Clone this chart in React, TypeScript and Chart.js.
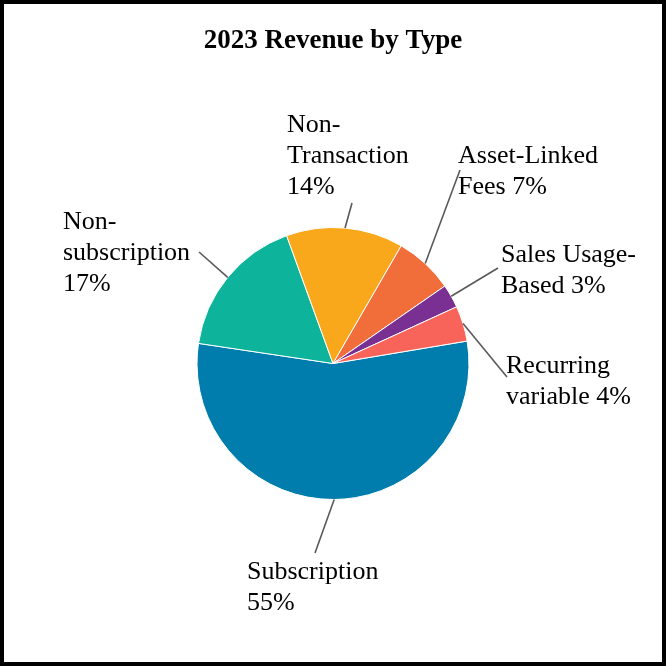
import React, { useEffect, useRef } from "react";
import { Chart, registerables } from "chart.js";

Chart.register(...registerables);

// ---- data ----
const chartTitle = "2023 Revenue by Type";
const categories = [
  "Subscription",
  "Non-subscription",
  "Non-Transaction",
  "Asset-Linked Fees",
  "Sales Usage-Based",
  "Recurring variable",
];
const shares = [55.0, 17.1, 13.9, 7.0, 2.8, 4.2];
// how each category name wraps in its label
const labelWraps = [
  ["Subscription"],
  ["Non-", "subscription"],
  ["Non-", "Transaction"],
  ["Asset-Linked", "Fees"],
  ["Sales Usage-", "Based"],
  ["Recurring", "variable"],
];
const percentOnOwnLine = [true, true, true, false, false, false];

// ---- styles / layout ----
const sliceColors = ["#007DAC", "#0DB39A", "#F9A81C", "#F16E3A", "#7A3092", "#F8645A"];
const FONT = '"Liberation Serif", "Times New Roman", serif';
const LINE_H = 31;
// label layout relative to pie centre: text left/first baseline, and where the leader ends
const labelLayout = [
  { tx: -86, ty: 215.5, lx: -18, ly: 189.5 },
  { tx: -270, ty: -134.5, lx: -134, ly: -111.5 },
  { tx: -46, ty: -231.5, lx: 19, ly: -160.5 },
  { tx: 125, ty: -200.5, lx: 127, ly: -193.5 },
  { tx: 168, ty: -101.5, lx: 165, ly: -95.5 },
  { tx: 173, ty: 9.5, lx: 174, ly: 13.5 },
];

const labelsPlugin = {
  id: "pieLabels",
  afterDraw(chart: any) {
    const ctx = chart.ctx;
    const meta = chart.getDatasetMeta(0);
    ctx.save();
    // title
    ctx.fillStyle = "#000";
    ctx.font = `bold 27px ${FONT}`;
    ctx.textAlign = "center";
    ctx.textBaseline = "alphabetic";
    ctx.fillText(chartTitle, chart.width / 2, 44);

    meta.data.forEach((arc: any, i: number) => {
      const { x, y, startAngle, endAngle, outerRadius } = arc.getProps(
        ["x", "y", "startAngle", "endAngle", "outerRadius"],
        true
      );
      const mid = (startAngle + endAngle) / 2;
      const px = x + Math.cos(mid) * outerRadius;
      const py = y + Math.sin(mid) * outerRadius;
      const L = labelLayout[i];
      ctx.strokeStyle = "#595959";
      ctx.lineWidth = 1.6;
      ctx.beginPath();
      ctx.moveTo(px, py);
      ctx.lineTo(x + L.lx, y + L.ly);
      ctx.stroke();

      const pct = `${Math.round(shares[i])}%`;
      const lines = labelWraps[i].slice();
      if (percentOnOwnLine[i]) lines.push(pct);
      else lines[lines.length - 1] = `${lines[lines.length - 1]} ${pct}`;
      ctx.fillStyle = "#000";
      ctx.font = `26px ${FONT}`;
      ctx.textAlign = "left";
      lines.forEach((t, k) => {
        ctx.fillText(t, x + L.tx, y + L.ty + k * LINE_H);
      });
    });
    ctx.restore();
  },
};

export default function App() {
  const ref = useRef<HTMLCanvasElement | null>(null);
  useEffect(() => {
    document.body.style.margin = "0";
    const canvas = ref.current!;
    const chart = new Chart(canvas, {
      type: "pie",
      data: {
        labels: categories,
        datasets: [
          {
            data: shares,
            backgroundColor: sliceColors,
            borderColor: "#ffffff",
            borderWidth: 1,
          },
        ],
      },
      options: {
        responsive: false,
        animation: false,
        devicePixelRatio: 1,
        rotation: 80.5,
        radius: 136,
        layout: { padding: { left: 193, right: 193, top: 223.5, bottom: 162.5 } },
        plugins: {
          legend: { display: false },
          title: { display: false },
          tooltip: { enabled: false },
        },
        events: [],
      } as any,
      plugins: [labelsPlugin],
    });
    return () => chart.destroy();
  }, []);
  return (
    <div
      style={{
        width: 666,
        height: 666,
        boxSizing: "border-box",
        border: "4px solid #000",
        background: "#fff",
      }}
    >
      <canvas ref={ref} width={658} height={658} style={{ display: "block", width: 658, height: 658 }} />
    </div>
  );
}
